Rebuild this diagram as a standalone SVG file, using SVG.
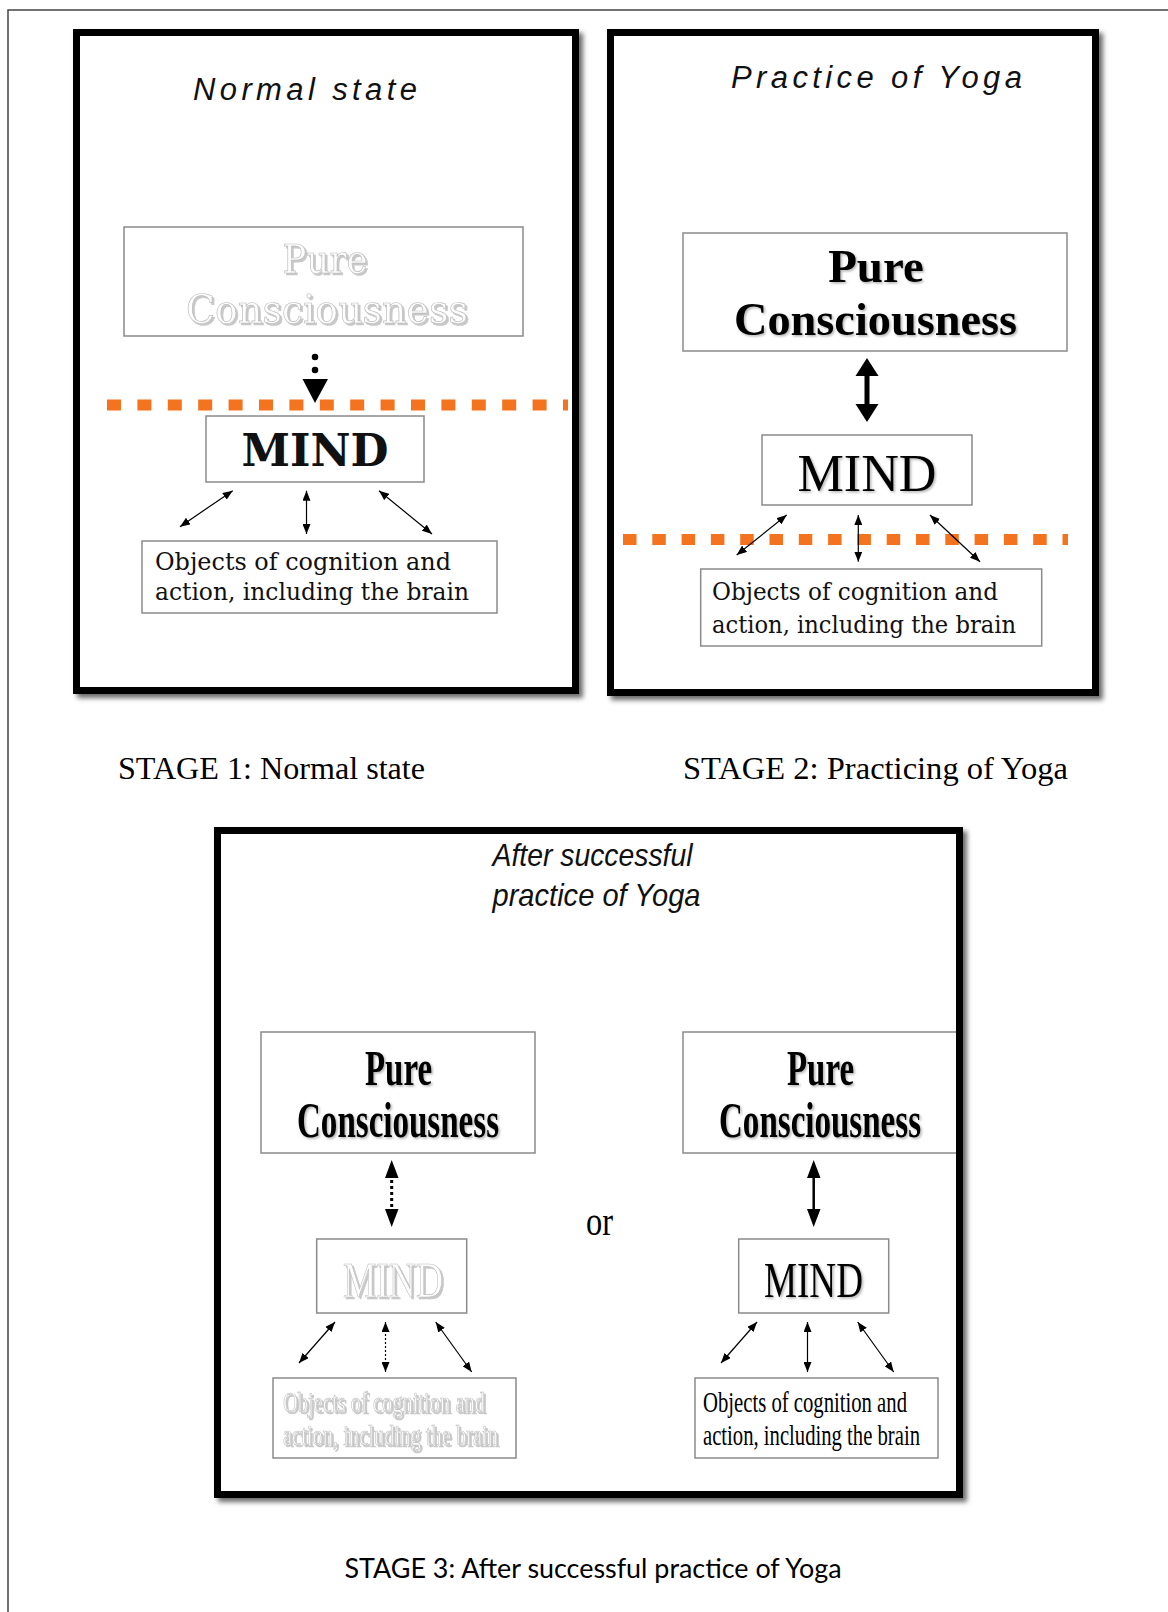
<svg xmlns="http://www.w3.org/2000/svg" width="1168" height="1612" viewBox="0 0 1168 1612">
<defs>
<style>
.frame{fill:#fff;stroke:#000;stroke-width:7}
.fshadow{fill:#6a6a6a;filter:url(#blur)}
.box{fill:#fff;stroke:#8a8a8a;stroke-width:1.5}
.sep{stroke:#F4731F;stroke-width:11;fill:none}
.title{font-family:"Liberation Sans",Arial,sans-serif;font-style:italic;fill:#111}
.serif{font-family:"Liberation Serif","Times New Roman",serif;fill:#000}
.dv{font-family:"DejaVu Serif","Liberation Serif",serif;fill:#111}
.faded{fill:#fdfdfd;stroke:#bdbdbd;stroke-width:0.7;filter:url(#emb)}
.shadow{filter:url(#tsh)}
.thin{stroke:#000;stroke-width:1.2;fill:none;marker-start:url(#ah);marker-end:url(#ah)}
.cap{font-family:"Liberation Serif","Times New Roman",serif;font-size:32px;fill:#000}
</style>
<filter id="blur" x="-5%" y="-5%" width="110%" height="110%"><feGaussianBlur stdDeviation="2.5"/></filter>
<filter id="emb" x="-5%" y="-10%" width="110%" height="130%"><feOffset in="SourceAlpha" dx="1.5" dy="1.5" result="o"/><feFlood flood-color="#c8c8c8"/><feComposite in2="o" operator="in" result="s"/><feMerge><feMergeNode in="s"/><feMergeNode in="SourceGraphic"/></feMerge></filter>
<filter id="tsh" x="-5%" y="-10%" width="110%" height="130%"><feDropShadow dx="1.5" dy="1.5" stdDeviation="1" flood-color="#000" flood-opacity="0.3"/></filter>
<marker id="ah" viewBox="0 0 10 8" refX="10" refY="4" markerWidth="10" markerHeight="8" markerUnits="userSpaceOnUse" orient="auto-start-reverse"><path d="M0,0 L10,4 L0,8 z" fill="#000"/></marker>
</defs>
<rect width="1168" height="1612" fill="#fff"/>
<path d="M8,1612 V10 H1168" fill="none" stroke="#444" stroke-width="1.5"/>

<!-- STAGE 1 -->
<g id="stage1-frame">
<rect class="fshadow" x="77" y="33" width="506" height="665"/>
<rect class="frame" x="76.5" y="32.5" width="499" height="658"/>
<text class="title" x="193" y="100" font-size="31" textLength="224" lengthAdjust="spacing">Normal state</text>
</g>
<g id="stage1-pure">
<rect class="box" x="124" y="227" width="399" height="109"/>
<text class="dv faded" x="325" y="273" font-size="39" text-anchor="middle" textLength="85" lengthAdjust="spacingAndGlyphs">Pure</text>
<text class="dv faded" x="327" y="323" font-size="39" text-anchor="middle" textLength="282" lengthAdjust="spacingAndGlyphs">Consciousness</text>
</g>
<line class="sep" x1="107" y1="405" x2="568" y2="405" stroke-dasharray="14 16.4"/>
<g id="stage1-mind">
<rect class="box" x="206" y="416" width="218" height="66"/>
<text class="dv" x="315" y="466" font-size="44" font-weight="bold" text-anchor="middle" textLength="147" lengthAdjust="spacingAndGlyphs" fill="#000">MIND</text>
</g>
<g id="stage1-objects">
<rect class="box" x="142" y="541" width="355" height="72"/>
<text class="dv" x="155" y="570" font-size="24" textLength="296" lengthAdjust="spacingAndGlyphs">Objects of cognition and</text>
<text class="dv" x="155" y="600" font-size="24" textLength="314" lengthAdjust="spacingAndGlyphs">action, including the brain</text>
</g>

<!-- STAGE 2 -->
<g id="stage2-frame">
<rect class="fshadow" x="611" y="33" width="492" height="667"/>
<rect class="frame" x="610.5" y="32.5" width="485" height="660"/>
<text class="title" x="731" y="88" font-size="31" textLength="291" lengthAdjust="spacing">Practice of Yoga</text>
</g>
<g id="stage2-pure">
<rect class="box" x="683" y="233" width="384" height="118"/>
<text class="serif shadow" x="876" y="282" font-size="47" font-weight="bold" text-anchor="middle">Pure</text>
<text class="serif shadow" x="875.5" y="335" font-size="47" font-weight="bold" text-anchor="middle" textLength="283" lengthAdjust="spacingAndGlyphs">Consciousness</text>
</g>
<g id="stage2-mind">
<rect class="box" x="762" y="435" width="210" height="70"/>
<text class="serif shadow" x="867" y="491" font-size="53" text-anchor="middle" textLength="139" lengthAdjust="spacingAndGlyphs">MIND</text>
</g>
<line class="sep" x1="623" y1="539.5" x2="1068" y2="539.5" stroke-dasharray="13.5 15.8"/>
<g id="stage2-objects">
<rect class="box" x="700.7" y="569" width="341" height="77"/>
<text class="dv" x="712" y="600" font-size="24" textLength="286" lengthAdjust="spacingAndGlyphs">Objects of cognition and</text>
<text class="dv" x="712" y="633" font-size="24" textLength="304" lengthAdjust="spacingAndGlyphs">action, including the brain</text>
</g>

<!-- STAGE 3 -->
<g id="stage3-frame">
<rect class="fshadow" x="218" y="831" width="749" height="671"/>
<rect class="frame" x="217.5" y="830.5" width="742" height="664"/>
<text class="title" x="492.5" y="866" font-size="32" textLength="200" lengthAdjust="spacingAndGlyphs">After successful</text>
<text class="title" x="492.5" y="906" font-size="32" textLength="208" lengthAdjust="spacingAndGlyphs">practice of Yoga</text>
</g>
<g id="stage3-pure-a">
<rect class="box" x="261" y="1032" width="274" height="121"/>
<text class="serif shadow" x="398.5" y="1085" font-size="50" font-weight="bold" text-anchor="middle" textLength="67" lengthAdjust="spacingAndGlyphs">Pure</text>
<text class="serif shadow" x="398" y="1137" font-size="50" font-weight="bold" text-anchor="middle" textLength="202" lengthAdjust="spacingAndGlyphs">Consciousness</text>
</g>
<g id="stage3-mind-a">
<rect class="box" x="316.7" y="1239" width="150" height="74"/>
<text class="serif faded" x="343" y="1297" font-size="51" textLength="100" lengthAdjust="spacingAndGlyphs">MIND</text>
</g>
<g id="stage3-objects-a">
<rect class="box" x="273" y="1378" width="243" height="80"/>
<text class="serif faded" x="283" y="1412" font-size="29" textLength="202" lengthAdjust="spacingAndGlyphs">Objects of cognition and</text>
<text class="serif faded" x="283" y="1445" font-size="29" textLength="215" lengthAdjust="spacingAndGlyphs">action, including the brain</text>
</g>
<text id="or-label" class="serif" x="586" y="1235" font-size="42" textLength="27" lengthAdjust="spacingAndGlyphs">or</text>
<g id="stage3-pure-b">
<rect class="box" x="683" y="1032" width="274" height="121"/>
<text class="serif shadow" x="820.5" y="1085" font-size="50" font-weight="bold" text-anchor="middle" textLength="67" lengthAdjust="spacingAndGlyphs">Pure</text>
<text class="serif shadow" x="820" y="1137" font-size="50" font-weight="bold" text-anchor="middle" textLength="202" lengthAdjust="spacingAndGlyphs">Consciousness</text>
</g>
<rect x="956" y="1028" width="3.5" height="130" fill="#000"/>
<g id="stage3-mind-b">
<rect class="box" x="738.7" y="1239" width="150" height="74"/>
<text class="serif shadow" x="764" y="1297" font-size="51" textLength="99" lengthAdjust="spacingAndGlyphs">MIND</text>
</g>
<g id="stage3-objects-b">
<rect class="box" x="695" y="1378" width="243" height="80"/>
<text class="serif" x="703" y="1412" font-size="29" textLength="204" lengthAdjust="spacingAndGlyphs">Objects of cognition and</text>
<text class="serif" x="703" y="1445" font-size="29" textLength="217" lengthAdjust="spacingAndGlyphs">action, including the brain</text>
</g>

<!-- connectors -->
<g id="connectors">
<line x1="315" y1="357" x2="315" y2="384" stroke="#000" stroke-width="6.5" stroke-linecap="round" stroke-dasharray="0 13"/>
<polygon points="302.5,379 328,379 315,403" fill="#000"/>
<line class="thin" x1="232.7" y1="490.7" x2="180" y2="526.7"/>
<line class="thin" x1="306.5" y1="490.7" x2="306.5" y2="534"/>
<line class="thin" x1="379" y1="490.7" x2="432" y2="534"/>

<rect x="864.5" y="372" width="5" height="36" fill="#000"/>
<polygon points="855.5,376 878.5,376 867,358" fill="#000"/>
<polygon points="855.5,404 878.5,404 867,422" fill="#000"/>
<line class="thin" x1="786.7" y1="515" x2="736.7" y2="555"/>
<line class="thin" x1="858.3" y1="515" x2="858.3" y2="561.7"/>
<line class="thin" x1="930" y1="515" x2="980" y2="561.7"/>

<polygon points="385,1178 398.5,1178 391.7,1160" fill="#000"/>
<line x1="391.7" y1="1180" x2="391.7" y2="1207" stroke="#000" stroke-width="3" stroke-dasharray="3 3"/>
<polygon points="385,1209 398.5,1209 391.7,1227" fill="#000"/>
<line class="thin" x1="335" y1="1322" x2="299" y2="1363" stroke-width="1"/>
<line class="thin" x1="385.5" y1="1322" x2="385.5" y2="1372" stroke-width="1" stroke-dasharray="2 2"/>
<line class="thin" x1="435.7" y1="1322" x2="471.7" y2="1372" stroke-width="1"/>

<polygon points="807,1178 820.5,1178 813.7,1160" fill="#000"/>
<line x1="813.7" y1="1176" x2="813.7" y2="1211" stroke="#000" stroke-width="2.5"/>
<polygon points="807,1209 820.5,1209 813.7,1227" fill="#000"/>
<line class="thin" x1="757" y1="1322" x2="721" y2="1363"/>
<line class="thin" x1="807.5" y1="1322" x2="807.5" y2="1372"/>
<line class="thin" x1="857.7" y1="1322" x2="893.7" y2="1372"/>
</g>

<!-- captions -->
<text id="caption1" class="cap" x="118" y="779" textLength="307" lengthAdjust="spacingAndGlyphs">STAGE 1: Normal state</text>
<text id="caption2" class="cap" x="683" y="779" textLength="385" lengthAdjust="spacingAndGlyphs">STAGE 2: Practicing of Yoga</text>
<text id="caption3" x="344.5" y="1578" font-family="Lato,'Open Sans',sans-serif" font-size="26" fill="#000" textLength="497" lengthAdjust="spacingAndGlyphs">STAGE 3: After successful practice of Yoga</text>
</svg>
